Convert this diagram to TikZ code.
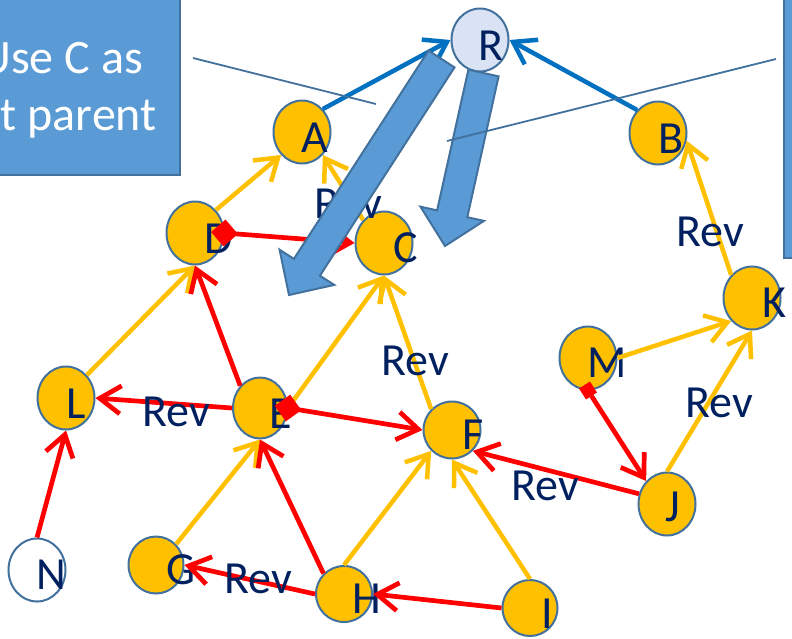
\documentclass[tikz,border=0pt]{standalone}
\usepackage{fontspec}
\setmainfont{Carlito}
\usetikzlibrary{arrows.meta,shapes.geometric,calc}
\definecolor{ygold}{HTML}{FFC000}
\definecolor{nodeedge}{HTML}{41719C}
\definecolor{rlight}{HTML}{DAE3F3}
\definecolor{navy}{HTML}{002060}
\definecolor{redc}{HTML}{FF0000}
\definecolor{bluec}{HTML}{0070C0}
\definecolor{bigblue}{HTML}{5B9BD5}
\tikzset{
  vtx/.style={ellipse, draw=nodeedge, line width=2pt, fill=ygold,
    minimum width=57pt, minimum height=63pt, inner sep=0pt},
  vsmall/.style={minimum width=55pt, minimum height=56pt},
  vlbl/.style={text=navy, font=\fontsize{46}{55}\selectfont, inner sep=0pt, anchor=base},
  revlbl/.style={text=navy, font=\fontsize{46}{55}\selectfont, inner sep=0pt, anchor=base},
  calltext/.style={text=white, font=\fontsize{48}{57}\selectfont, inner sep=0pt},
  barb/.tip={Straight Barb[length=21pt,width=28pt]},
  yedge/.style={draw=ygold, line width=4.5pt, -barb},
  redge/.style={draw=redc, line width=4.7pt, -barb},
  bedge/.style={draw=bluec, line width=4.5pt, -barb},
  diastart/.style={{Diamond[length=27pt,width=27pt,line width=0pt]}-barb, shorten <=-13.5pt},
  sqstart/.style={{Square[length=13pt,width=13pt,line width=0pt]}-barb, shorten <=-6.5pt},
  bigarrow/.style={fill=bigblue, draw=nodeedge, line width=2pt, line join=miter},
  callbox/.style={fill=bigblue, draw=nodeedge, line width=2pt},
  callline/.style={draw=nodeedge, line width=1.8pt},
}
\begin{document}
\begin{tikzpicture}[x=1pt,y=-1pt]
\path[use as bounding box] (0,0) rectangle (792,638);
\clip (0,0) rectangle (792,638);
\fill[white] (0,0) rectangle (792,638);

% callout boxes
\draw[callbox] (-10,-10) rectangle (180,175);
\node[calltext, anchor=base east] (ct1) at (143,73) {Use C as};
\node[calltext, anchor=base east] (ct2) at (157,130) {t parent};
\draw[callbox] (784,-10) rectangle (810,258);

% vertices
\node[vtx, fill=rlight] (R) at (480,40) {};
\node[vtx] (A) at (302,132) {};
\node[vtx] (B) at (658,133) {};
\node[vtx] (D) at (195,233) {};
\node[vtx] (C) at (384,243) {};
\node[vtx, minimum width=54pt, minimum height=61pt] (E) at (260,408) {};
\node[vtx] (L) at (66,398) {};
\node[vtx, fill=white] (N) at (37,570) {};
\node[vtx, vsmall, minimum height=57pt] (G) at (156,565) {};
\node[vtx, vsmall, minimum width=56pt] (H) at (344,594) {};
\node[vtx, vsmall, minimum width=57pt, minimum height=57pt] (F) at (452,430) {};
\node[vtx, vsmall] (I) at (530,608) {};
\node[vtx] (J) at (667,504) {};
\node[vtx] (M) at (588,358) {};
\node[vtx] (K) at (752,298) {};

% vertex letters
\node[vlbl] (tR) at (491,60) {R};
\node[vlbl] (tA) at (315,152) {A};
\node[vlbl] (tB) at (671,153) {B};
\node[vlbl] (tD) at (219,253) {D};
\node[vlbl] (tC) at (406,262) {C};
\node[vlbl] (tE) at (281,428) {E};
\node[vlbl] (tL) at (76,418) {L};
\node[vlbl] (tN) at (51,589) {N};
\node[vlbl] (tG) at (181,584) {G};
\node[vlbl] (tH) at (367,613) {H};
\node[vlbl] (tF) at (473,449) {F};
\node[vlbl] (tI) at (547,628) {I};
\node[vlbl] (tJ) at (673,521) {J};
\node[vlbl] (tM) at (607,377) {M};
\node[vlbl] (tK) at (774,317) {K};

% edges
\draw[bedge] (A.north east) -- (R.west);
\draw[bedge] (B.north west) -- (R.east);
\draw[yedge] (D.north east) -- (A.south west);
\draw[yedge] (C.north west) -- (A.south east);
\draw[yedge] (E.east) -- (C.south);
\draw[yedge] (F.north west) -- (C.south);
\draw[yedge] (L.north east) -- (D.south);
\draw[redge] (E.north west) -- (D.south);
\draw[redge] (E.west) -- (L.east);
\draw[redge] (N.north) -- (L.south);
\draw[yedge] (G.north east) -- (E.south);
\draw[redge] (H.north west) -- (E.south);
\draw[redge] (H.west) -- (G.east);
\draw[yedge] (H.north) -- (F.south west);
\draw[yedge] (I.north) -- (F.south);
\draw[redge] (I.west) -- (H.east);
\draw[redge] (J.160) -- (F.south east);
\draw[yedge] (M.east) -- (K.south west);
\draw[yedge] (J.north) -- (K.south);
\draw[yedge] (K.north west) -- (B.-15);
\draw[redge, diastart] (D.east) -- (C.west);
\draw[redge, diastart] (E.east) -- (F.west);
\draw[redge, sqstart, fill=redc] (M.south) -- (J.north west);

% Rev labels
\node[revlbl] (r1) at (348,218) {Rev};
\node[revlbl] (r2) at (415,375) {Rev};
\node[revlbl] (r3) at (176,426) {Rev};
\node[revlbl] (r4) at (258,593) {Rev};
\node[revlbl] (r5) at (545,500) {Rev};
\node[revlbl] (r6) at (719,417) {Rev};
\node[revlbl] (r7) at (710,246) {Rev};

% big block arrows
\draw[bigarrow] (428.5,50.6) -- (454.5,67.4) -- (319.9,275.7) -- (334.2,284.9)
  -- (289,295) -- (279.6,249.7) -- (293.9,258.9) -- cycle;
\draw[bigarrow] (468.4,69.6) -- (498.6,76.4) -- (467.3,217.2) -- (483.9,220.9)
  -- (445,246) -- (420.5,206.7) -- (437.1,210.4) -- cycle;

% callout pointer lines
\coordinate (p1a) at (193,58);
\coordinate (p1b) at (376,104);
\coordinate (p2a) at (447,141);
\coordinate (p2b) at (776,59);
\draw[callline] (p1a) -- (p1b);
\draw[callline] (p2a) -- (p2b);
\end{tikzpicture}
\end{document}
